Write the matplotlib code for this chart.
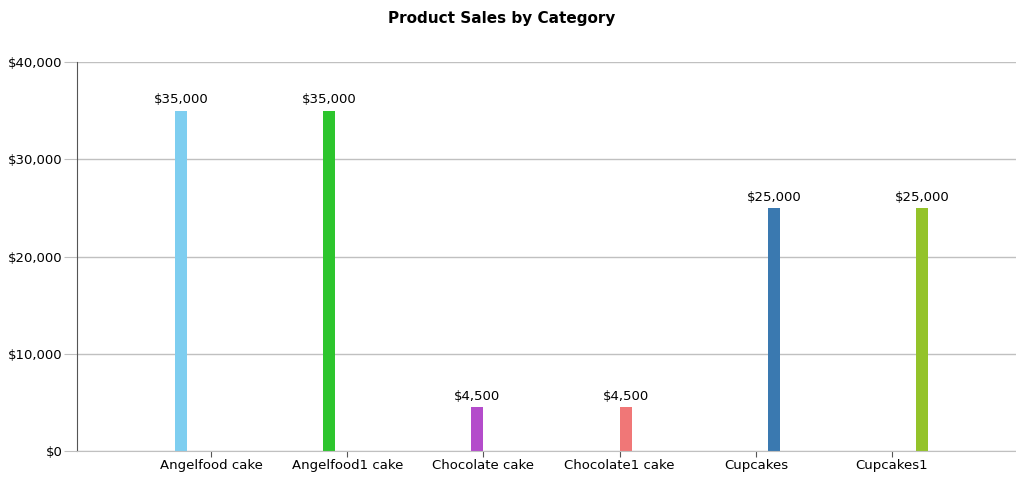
import matplotlib
matplotlib.use("Agg")
import matplotlib.pyplot as plt
from matplotlib.ticker import FuncFormatter

# Data
categories = ["Angelfood cake", "Angelfood1 cake", "Chocolate cake",
              "Chocolate1 cake", "Cupcakes", "Cupcakes1"]
sales = [35000, 35000, 4500, 4500, 25000, 25000]
colors = ["#7ECEF0", "#2DC52D", "#B44CCB", "#F07777", "#3A79B0", "#94C32A"]
y_ticks = [0, 10000, 20000, 30000, 40000]

W, H = 1016, 479
fig = plt.figure(figsize=(W / 100, H / 100), dpi=100)
ax = fig.add_axes([77 / W, (H - 451) / H, (W - 77) / W, (451 - 62) / H])

# Each category is a cluster of 6 series slots, only its own series has a value
n = len(categories)
bar_w = 0.088
for i, v in enumerate(sales):
    x = i + (i - (n - 1) / 2) * bar_w
    ax.bar(x, v, width=bar_w, color=colors[i], zorder=3)
    ax.annotate(f"${v:,.0f}", (x, v), xytext=(0, 3), textcoords="offset points",
                ha="center", va="bottom", fontsize=9.5, color="black")

grid_c = "#C0C0C0"
ax.set_ylim(0, 40000)
ax.set_xlim(-0.984, 5.91)
ax.set_yticks(y_ticks)
ax.yaxis.set_major_formatter(FuncFormatter(lambda v, p: f"${v:,.0f}"))
ax.set_xticks(range(n))
ax.set_xticklabels(categories)
ax.grid(axis="y", color=grid_c, linewidth=1, zorder=0)
ax.tick_params(axis="y", length=9.5, color=grid_c, labelsize=9.5, pad=1)
ax.tick_params(axis="x", length=4, color="#555555", labelsize=9.5, pad=2, direction="out")

for s in ["top", "right"]:
    ax.spines[s].set_visible(False)
ax.spines["left"].set_color("#555555")
ax.spines["bottom"].set_color(grid_c)
ax.spines["bottom"].set_zorder(4)

fig.text(502 / W, 1 - 18 / H, "Product Sales by Category", ha="center", va="center",
         fontsize=11, fontweight="bold")

fig.savefig("out.png", dpi=100)
